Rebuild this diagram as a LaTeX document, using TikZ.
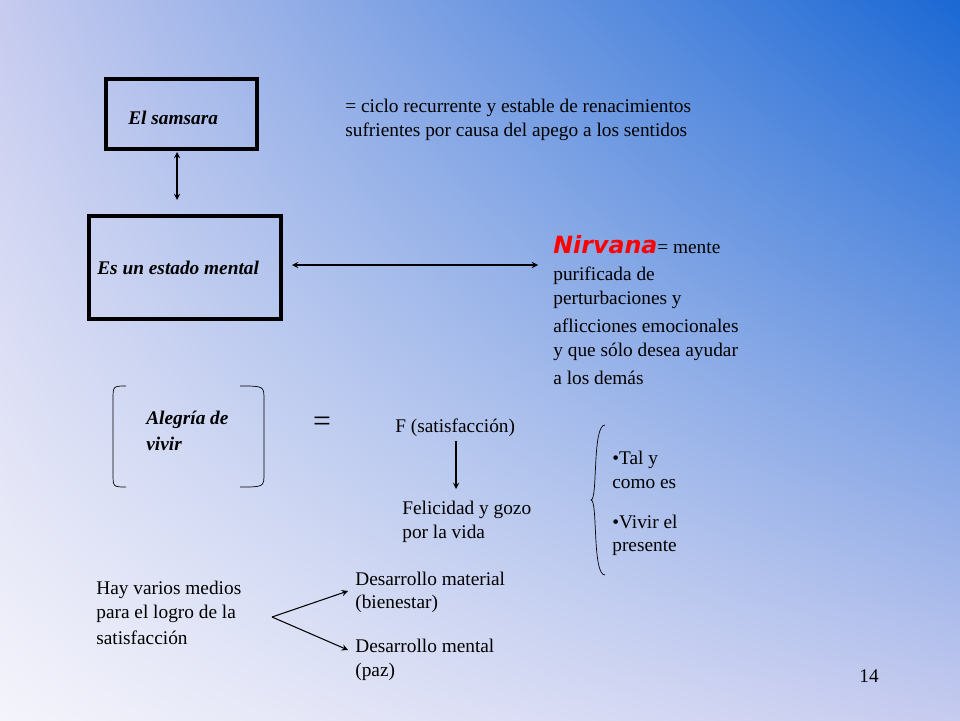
\documentclass[tikz,border=0pt]{standalone}
\usepackage{fontspec}
\setmainfont{Liberation Serif}
\newfontfamily\nirvfont{DejaVu Sans}
\usetikzlibrary{positioning,shadings}
\definecolor{bgblue}{HTML}{1A68D4}
\definecolor{bgpale}{HTML}{F4F4FB}
\definecolor{bglav}{HTML}{C6CBEF}
\begin{document}
\begin{tikzpicture}[x=0.02cm,y=-0.02cm,font=\fontsize{11}{13}\selectfont]
    % Define styles
    \tikzset{
      box/.style={draw, line width=2.2pt, inner sep=0pt},
      lbl/.style={anchor=west, inner sep=0pt},
      bold/.style={lbl, font=\fontsize{11}{13}\selectfont\bfseries\itshape},
      arr/.style={<->, >=stealth, semithick},
      onearr/.style={->, >=stealth, semithick}
    }
    % background
    \shade[upper left=bglav, upper right=bgblue, lower left=bgpale, lower right=bglav] (0,0) rectangle (960,720);
    \useasboundingbox (0,0) rectangle (960,720);

    % Row 1: samsara
    \draw[box] (106,79) rectangle (257,149);
    \node[bold] (samsara) at (128,118) {El samsara};
    \coordinate (sTop) at (177,152);
    \coordinate (sBot) at (177,200);
    \draw[arr] (sTop) -- (sBot);
    \node[lbl] (def1) at (345,108) {= ciclo recurrente y estable de renacimientos};
    \node[lbl] (def2) at (345,132) {sufrientes por causa del apego a los sentidos};

    % Row 2: estado mental and Nirvana
    \draw[box, line width=2.8pt] (89,216) rectangle (281,319);
    \node[bold] (estado) at (97,268) {Es un estado mental};
    \coordinate (eL) at (292,265);
    \coordinate (eR) at (538,265);
    \draw[arr] (eL) -- (eR);
    \node[lbl] (nirv) at (553,245) {{\nirvfont\bfseries\itshape\fontsize{13.5}{15}\selectfont\color{red}Nirvana}= mente};
    \node[lbl] (n2) at (553,276) {purificada de};
    \node[lbl] (n3) at (553,300) {perturbaciones y};
    \node[lbl] (n4) at (553,326) {aflicciones emocionales};
    \node[lbl] (n5) at (553,352) {y que sólo desea ayudar};
    \node[lbl] (n6) at (553,378) {a los demás};

    % Row 3: alegria de vivir
    \draw[thin] (126,386) .. controls (113,386) .. (113,400) -- (113,473) .. controls (113,487) .. (126,487);
    \draw[thin] (240,386) .. controls (264,386) .. (264,400) -- (264,473) .. controls (264,487) .. (240,487);
    \node[bold] (aleg1) at (146,420) {Alegría de};
    \node[bold] (aleg2) at (146,444) {vivir};
    \node[inner sep=0pt, font=\fontsize{18}{20}\selectfont] (eq) at (322,424) {=};
    \node[lbl] (func) at (395,428) {F (satisfacción)};
    \coordinate (fTop) at (456,441);
    \coordinate (fBot) at (456,489);
    \draw[onearr] (fTop) -- (fBot);
    \node[lbl] (fel1) at (402,510) {Felicidad y gozo};
    \node[lbl] (fel2) at (402,534) {por la vida};
    \draw[thin] (605,425) .. controls (592,425) and (598,500) .. (591,500) .. controls (598,500) and (592,575) .. (605,575);
    \node[lbl] (tal1) at (612,460) {•Tal y};
    \node[lbl] (tal2) at (612,484) {como es};
    \node[lbl] (viv1) at (612,522) {•Vivir el};
    \node[lbl] (viv2) at (612,548) {presente};

    % Row 4: medios
    \node[lbl] (hay1) at (96,590) {Hay varios medios};
    \node[lbl] (hay2) at (96,614) {para el logro de la};
    \node[lbl] (hay3) at (96,638) {satisfacción};
    \coordinate (hFork) at (272,617);
    \coordinate (hUp) at (348,591);
    \coordinate (hDn) at (348,650);
    \draw[onearr] (hFork) -- (hUp);
    \draw[onearr] (hFork) -- (hDn);
    \node[lbl] (mat1) at (355,579) {Desarrollo material};
    \node[lbl] (mat2) at (355,604) {(bienestar)};
    \node[lbl] (men1) at (355,646) {Desarrollo mental};
    \node[lbl] (men2) at (355,672) {(paz)};

    \node[lbl] (page) at (859,676) {14};
\end{tikzpicture}
\end{document}
